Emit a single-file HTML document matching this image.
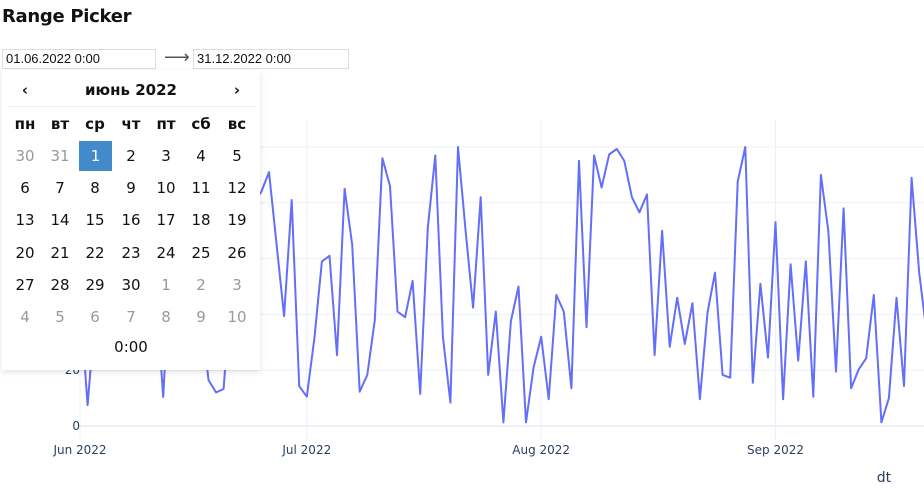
<!DOCTYPE html>
<html><head><meta charset="utf-8">
<style>
body{margin:0;width:924px;height:499px;overflow:hidden;background:#fff;font-family:"Liberation Sans","DejaVu Sans",sans-serif;position:relative}
#title{position:absolute;left:2px;top:6px;font-size:18px;font-weight:bold;color:#111;font-family:"DejaVu Sans","Liberation Sans",sans-serif;letter-spacing:-0.3px}
.inp{position:absolute;top:49px;height:18px;width:154px;border:1px solid #ddd;font-size:13px;line-height:18px;padding-left:3px;box-sizing:border-box;height:20px;color:#111}
#arrow{position:absolute;left:164px;top:47px;font-size:18px;color:#555}
#cal{position:absolute;left:2px;top:70px;width:258px;height:300px;background:#fff;box-shadow:0 2px 6px rgba(0,0,0,0.12);z-index:2;font-family:"DejaVu Sans","Liberation Sans",sans-serif}
.c{position:absolute;width:34px;text-align:center;font-size:15px;color:#111}
.g{color:#999}
.h{font-weight:bold}
svg{position:absolute;left:0;top:0}
</style></head><body>
<div id="title">Range Picker</div>
<div class="inp" style="left:2px">01.06.2022 0:00</div>
<div id="arrow">⟶</div>
<div class="inp" style="left:193px;width:156px">31.12.2022 0:00</div>
<div id="cal"></div>
<svg id="chart" width="924" height="499"></svg>
<script>
const dayOffsets=[];
const values=[45,7.5,40,70,85,60,35,75,90,55,50,10.4,60,80,45,30,40,16.5,12,13.3,50,70,90,80,84,91,65,39.4,81,14.3,10.5,31.5,59,61,25.4,85,65,12.3,18.3,38,96,86,41,39,52,11.5,71,97,32,8.4,100,70,42.4,82,18.3,41,1.3,37.6,50,1.3,21,32,9.6,47,41,13.5,95,35.4,97,85.5,97.4,99.3,95,82,76.6,83,25.4,70,28.4,46,29.4,44,9.6,40.6,55,18.3,17.3,87.6,100,15.5,51,24.5,73,9.6,58,23.4,59,10.5,90,69.6,19.5,78,13.5,20.3,24.3,47,1.3,10,46,14.3,89,55,33,40];
for(let i=0;i<values.length;i++)dayOffsets.push(i);
const yTicks=[0,20,40,60,80,100];
const xTickLabels=["Jun 2022","Jul 2022","Aug 2022","Sep 2022"];
const xTickDays=[0,30,61,92];
const X=d=>80+d*7.56;
const Y=v=>426-v*2.79;
const NS="http://www.w3.org/2000/svg";
const svg=document.getElementById('chart');
function mk(t,a){const e=document.createElementNS(NS,t);for(const k in a)e.setAttribute(k,a[k]);svg.appendChild(e);return e;}
const clip=mk('clipPath',{id:'cp'});
const r=document.createElementNS(NS,'rect');r.setAttribute('x',80);r.setAttribute('y',120);r.setAttribute('width',844);r.setAttribute('height',320);clip.appendChild(r);
xTickDays.forEach((d,i)=>{
 const l=mk('line',{x1:X(d),x2:X(d),y1:120,y2:440,stroke:'#ebf0f8','stroke-width':1});
 
 
 const t=mk('text',{x:X(d),y:454,'text-anchor':'middle','font-size':12,fill:'#2a3f5f','font-family':'DejaVu Sans, Liberation Sans, sans-serif'});
 t.textContent=xTickLabels[i];
 
 
});
yTicks.forEach(v=>{
 const l=mk('line',{x1:80,x2:924,y1:Y(v),y2:Y(v),stroke:'#ebf0f8','stroke-width':v===0?2:1});
 
 
 const t=mk('text',{x:80,y:Y(v)+4,'text-anchor':'end','font-size':12,fill:'#2a3f5f','font-family':'DejaVu Sans, Liberation Sans, sans-serif'});
 t.textContent=v;
 
 
});
const pts=values.map((v,i)=>X(dayOffsets[i]).toFixed(1)+','+Y(v).toFixed(1)).join(' ');
const pl=mk('polyline',{points:pts,fill:'none',stroke:'#636efa','stroke-width':2,'clip-path':'url(#cp)','stroke-linejoin':'round'});


const xt=mk('text',{x:884,y:482,'text-anchor':'middle','font-size':14,fill:'#2a3f5f','font-family':'DejaVu Sans, Liberation Sans, sans-serif'});
xt.textContent='dt';



// calendar
const cal=document.getElementById('cal');
function cell(txt,x,y,cls,name,inter){const d=document.createElement('div');d.className='c '+(cls||'');d.style.left=(x-17-2)+'px';d.style.top=(y-70-10)+'px';d.textContent=txt;
 
 
 cal.appendChild(d);return d;}
const cols=[25,60,95,131,166,201,237];
cell('‹',25,91,'h','prev-month-button','true');
const m=cell('июнь 2022',131,91,'h','month-title','false');m.style.width='140px';m.style.left=(131-70-2)+'px';
cell('›',237,91,'h','next-month-button','true');
const sep=document.createElement('div');sep.style.cssText='position:absolute;left:6px;top:36px;width:248px;border-top:1px solid #f0f0f0';cal.appendChild(sep);
['пн','вт','ср','чт','пт','сб','вс'].forEach((n,i)=>cell(n,cols[i],125,'h','weekday-header','false'));
const days=[30,31];for(let i=1;i<=30;i++)days.push(i);for(let i=1;i<=10;i++)days.push(i);
const rows=[156,188,220,253,285,317];
days.forEach((d,i)=>{const grey=i<2||i>=32;const c=cell(d,cols[i%7],rows[Math.floor(i/7)],grey?'g':'','day-cell','true');
 if(i===2){c.style.background='#428bca';c.style.color='#fff';c.style.height='30px';c.style.lineHeight='30px';c.style.top=(141-70)+'px';c.style.width='33px';c.style.left=(79-2)+'px';}
 else{c.style.lineHeight='20px';}
});
const tm=cell('0:00',131,348,'','time-selector','true');tm.style.width='60px';tm.style.left=(131-30-2)+'px';
</script>
</body></html>
